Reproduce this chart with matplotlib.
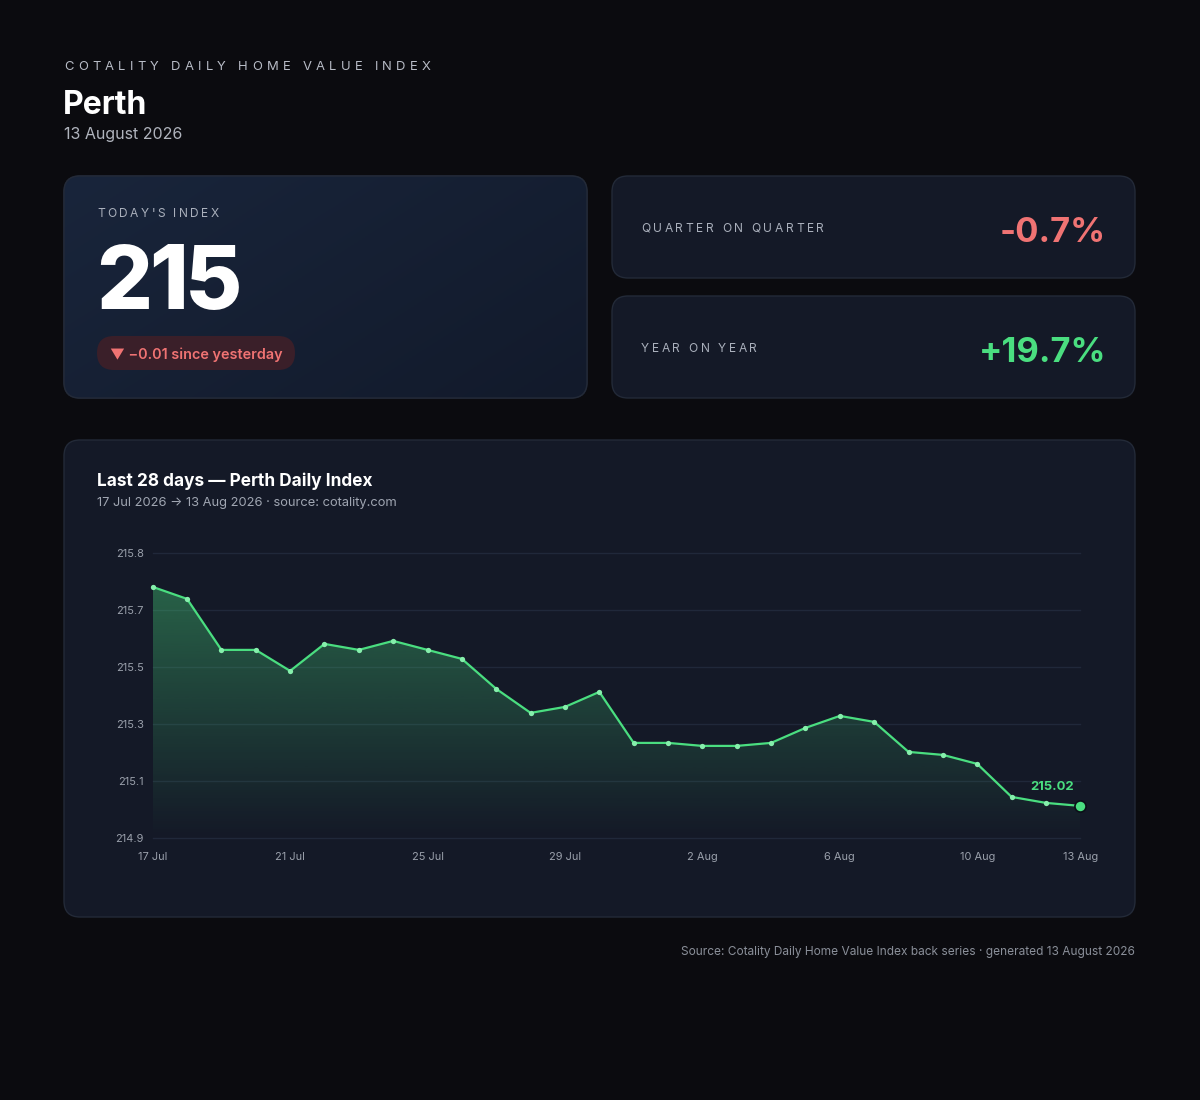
import numpy as np
import matplotlib
matplotlib.use("Agg")
import matplotlib.pyplot as plt
from matplotlib.patches import FancyBboxPatch
from matplotlib.colors import to_rgb
from matplotlib.font_manager import FontProperties

# --- data -----------------------------------------------------------------
dates = ["17 Jul", "18 Jul", "19 Jul", "20 Jul", "21 Jul", "22 Jul", "23 Jul",
         "24 Jul", "25 Jul", "26 Jul", "27 Jul", "28 Jul", "29 Jul", "30 Jul",
         "31 Jul", "1 Aug", "2 Aug", "3 Aug", "4 Aug", "5 Aug", "6 Aug",
         "7 Aug", "8 Aug", "9 Aug", "10 Aug", "11 Aug", "12 Aug", "13 Aug"]
values = [215.75, 215.71, 215.54, 215.54, 215.47, 215.56, 215.54,
          215.57, 215.54, 215.51, 215.41, 215.33, 215.35, 215.40,
          215.23, 215.23, 215.22, 215.22, 215.23, 215.28, 215.32,
          215.30, 215.20, 215.19, 215.16, 215.05, 215.03, 215.02]
tick_days = ["17 Jul", "21 Jul", "25 Jul", "29 Jul", "2 Aug", "6 Aug", "10 Aug", "13 Aug"]
ytick_labels = ["214.9", "215.1", "215.3", "215.5", "215.7", "215.8"]
y_lo, y_hi = 214.913, 215.863

today_index = "215"
day_change = "\u25bc \u22120.01 since yesterday"
qoq = "-0.7%"
yoy = "+19.7%"

# --- style ----------------------------------------------------------------
BG = "#0b0b0f"
CARD = "#141927"
EDGE = "#232a38"
GREEN = "#4ade80"
RED = "#f07373"
MUTED = "#aab0bc"
FONT = ["Inter", "DejaVu Sans"]
plt.rcParams["font.family"] = FONT


def pt(px):
    return px * 0.72


fig = plt.figure(figsize=(12, 11), dpi=100, facecolor=BG)
ax = fig.add_axes([0, 0, 1, 1])
ax.set_xlim(0, 1200)
ax.set_ylim(1100, 0)
ax.axis("off")
renderer = fig.canvas.get_renderer()


def tracked(x, y, s, size_px, width_px, color, weight="normal"):
    # letter-spaced text: spread characters to fill the measured width
    prop = FontProperties(family=FONT, size=pt(size_px), weight=weight)
    ws = []
    for c in s:
        if c == " ":
            ws.append(0.28 * size_px)
        else:
            ws.append(renderer.get_text_width_height_descent(c, prop, ismath=False)[0])
    gap = (width_px - sum(ws)) / (len(s) - 1)
    for c, w in zip(s, ws):
        if c != " ":
            ax.text(x, y, c, fontproperties=prop, color=color, ha="left",
                    va="baseline", zorder=4)
        x += w + gap


def card(x0, y0, x1, y1, fc=CARD, r=16):
    p = FancyBboxPatch((x0, y0), x1 - x0, y1 - y0,
                       boxstyle=f"round,pad=0,rounding_size={r}",
                       fc=fc, ec=EDGE, lw=1)
    ax.add_patch(p)
    return p


# header
tracked(64, 70, "COTALITY DAILY HOME VALUE INDEX", 13, 367, "#b8bcc6")
ax.text(63, 114, "Perth", fontsize=pt(32), weight="bold", color="white",
        va="baseline", ha="left")
ax.text(64, 139, "13 August 2026", fontsize=pt(16), color="#b0b4bd",
        va="baseline", ha="left")

# today's index card with soft gradient
p = card(64, 176, 587, 398, fc="none")
gx, gy = np.meshgrid(np.linspace(0, 1, 200), np.linspace(0, 1, 100))
t = (gx * 0.6 + gy * 0.4)
c0, c1 = np.array(to_rgb("#19253b")), np.array(to_rgb("#121a2b"))
img = c0[None, None, :] * (1 - t[..., None]) + c1[None, None, :] * t[..., None]
im = ax.imshow(img, extent=(64, 587, 398, 176), zorder=1, aspect="auto")
im.set_clip_path(p)
card(64, 176, 587, 398, fc="none").set_zorder(2)
ax.set_xlim(0, 1200)
ax.set_ylim(1100, 0)

tracked(97, 217, "TODAY'S INDEX", 12, 122, MUTED)
tracked(96, 309, today_index, 88, 146, "white", weight="heavy")
pill = FancyBboxPatch((97, 336), 198, 34, boxstyle="round,pad=0,rounding_size=17",
                      fc="#3a1f29", ec="none", zorder=3)
ax.add_patch(pill)
ax.text(110, 359, day_change, fontsize=pt(14.4), weight="semibold", color=RED,
        va="baseline", ha="left", zorder=4)

# right stat cards
card(612, 176, 1135, 278)
tracked(641, 232, "QUARTER ON QUARTER", 12, 183, MUTED)
ax.text(1106, 242, qoq, fontsize=pt(34.5), weight="bold", color=RED,
        va="baseline", ha="right")
card(612, 296, 1135, 398)
tracked(641, 352, "YEAR ON YEAR", 12, 116, MUTED)
ax.text(1106, 362, yoy, fontsize=pt(34.5), weight="bold", color=GREEN,
        va="baseline", ha="right")

# chart card
card(64, 440, 1135, 917)
ax.text(97, 486, "Last 28 days \u2014 Perth Daily Index", fontsize=pt(17.2),
        weight="bold", color="white", va="baseline", ha="left")
ax.text(97, 506, "17 Jul 2026 \u2192 13 Aug 2026 \u00b7 source: cotality.com",
        fontsize=pt(12.9), color="#a0a6b2", va="baseline", ha="left")

# footer
ax.text(1135, 955, "Source: Cotality Daily Home Value Index back series \u00b7 generated 13 August 2026",
        fontsize=pt(11.9), color="#8a8f99", va="baseline", ha="right")

# --- line chart -------------------------------------------------------------
L, R, T, B = 152.7, 1080.3, 553, 838
ax2 = fig.add_axes([L / 1200, (1100 - B) / 1100, (R - L) / 1200, (B - T) / 1100])
ax2.patch.set_alpha(0)
for s in ax2.spines.values():
    s.set_visible(False)

x = np.arange(len(values))
grad = np.zeros((256, 1, 4))
grad[..., :3] = to_rgb(GREEN)
grad[:, 0, 3] = np.linspace(0.0, 0.37, 256)
poly = ax2.fill_between(x, values, y_lo, color="none", lw=0)
gim = ax2.imshow(grad, extent=(0, len(values) - 1, y_lo, max(values)),
                 origin="lower", aspect="auto", zorder=1)
gim.set_clip_path(poly.get_paths()[0], transform=ax2.transData)

ax2.plot(x, values, color=GREEN, lw=1.6, marker="o", ms=3.8,
         mfc="#86efac", mec="#86efac", mew=0, clip_on=False, zorder=3)
ax2.plot(x[-1], values[-1], "o", ms=8, mfc=GREEN, mec="#0b0f17", mew=1.2,
         clip_on=False, zorder=4)
ax2.annotate(f"{values[-1]:.2f}", (x[-1], values[-1]), xytext=(-28, 19),
             textcoords="offset pixels", ha="center", va="center",
             fontsize=pt(13), weight="bold", color=GREEN)

ax2.set_xlim(0, len(values) - 1)
ax2.set_ylim(y_lo, y_hi)
ax2.set_yticks(np.linspace(y_lo, y_hi, len(ytick_labels)))
ax2.set_yticklabels(ytick_labels)
ax2.set_xticks([dates.index(d) for d in tick_days])
ax2.set_xticklabels(tick_days)
ax2.yaxis.grid(True, color="#20283a", lw=1)
for gl in ax2.get_ygridlines():
    gl.set_clip_on(False)
ax2.set_axisbelow(True)
ax2.tick_params(axis="both", length=0, labelsize=pt(11), labelcolor="#9aa0ab")
ax2.tick_params(axis="y", pad=pt(9))
ax2.tick_params(axis="x", pad=pt(14))

fig.savefig("out.png", dpi=100, facecolor=BG)
